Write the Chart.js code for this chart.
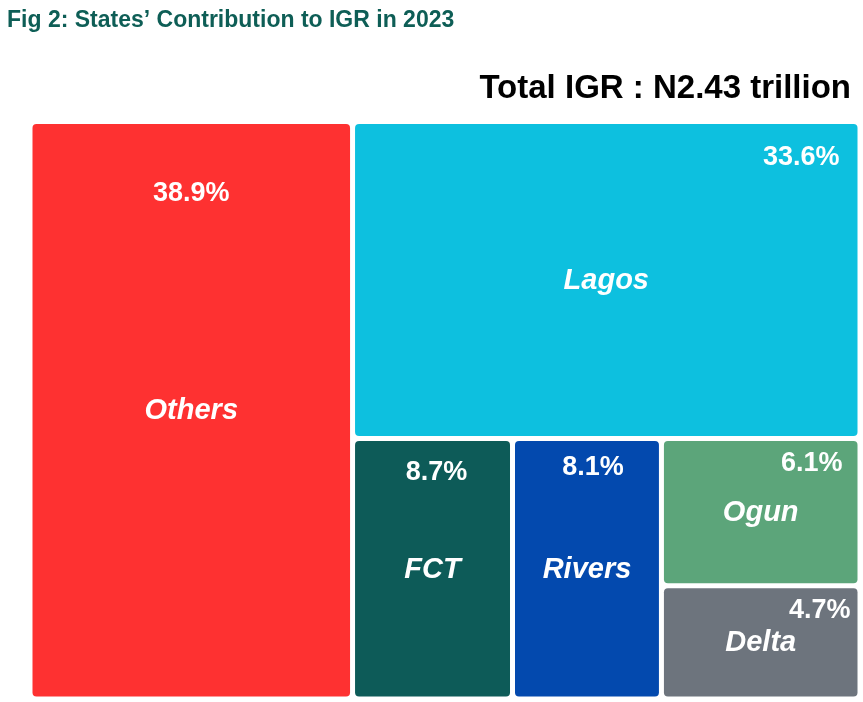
<!DOCTYPE html>
<html><head><meta charset="utf-8">
<script src="https://cdn.jsdelivr.net/npm/chart.js@4.4.0/dist/chart.umd.min.js"></script>
<style>html,body{margin:0;padding:0;background:#fff}#wrap{width:863px;height:702px;position:relative}</style>
</head><body><div id="wrap"><canvas id="c"></canvas></div>
<script>
// ---- data ----
const categories = ['Others', 'Lagos', 'FCT', 'Rivers', 'Ogun', 'Delta'];
const shares = [38.9, 33.6, 8.7, 8.1, 6.1, 4.7];
const titleText = 'Fig 2: States’ Contribution to IGR in 2023';
const totalText = 'Total IGR : N2.43 trillion';

// ---- styles ----
const colors = {Others:'#FE3131', Lagos:'#0DC0DF', FCT:'#0D5B58', Rivers:'#0349AE', Ogun:'#5CA57A', Delta:'#6D747D'};
const pctStyle = {
  Others:{align:'center', dx:0,  dy:70},
  Lagos: {align:'right',  dx:18, dy:34},
  FCT:   {align:'center', dx:4,  dy:31},
  Rivers:{align:'center', dx:6,  dy:26},
  Ogun:  {align:'right',  dx:15, dy:22},
  Delta: {align:'right',  dx:7,  dy:22}
};
const GAP = 5;

function squarify(vals, rect, kx, ky) {
  const out = [];
  const items = vals.map((v, i) => ({v, i}));
  const total = vals.reduce((a, b) => a + b, 0);
  const scale = (rect.w * rect.h) / total;
  let r = {...rect};
  function worst(row, side) {
    const s = row.reduce((a, b) => a + b.v, 0) * scale * kx * ky;
    const thick = s / side;
    let m = 0;
    for (const it of row) { const len = it.v * scale * kx * ky / thick; m = Math.max(m, thick / len, len / thick); }
    return m;
  }
  function layoutRow(row, r) {
    const sum = row.reduce((a, b) => a + b.v, 0) * scale;
    if (r.w * kx >= r.h * ky) {
      const cw = sum / r.h; let y = r.y;
      for (const it of row) { const h = it.v * scale / cw; out[it.i] = {x0:r.x, x1:r.x + cw, y0:y, y1:y + h}; y += h; }
      return {x:r.x + cw, y:r.y, w:r.w - cw, h:r.h};
    } else {
      const rh = sum / r.w; let x = r.x;
      for (const it of row) { const w = it.v * scale / rh; out[it.i] = {x0:x, x1:x + w, y0:r.y, y1:r.y + rh}; x += w; }
      return {x:r.x, y:r.y + rh, w:r.w, h:r.h - rh};
    }
  }
  let row = [];
  while (items.length) {
    const side = Math.min(r.w * kx, r.h * ky);
    const next = items[0];
    if (row.length === 0 || worst(row.concat([next]), side) <= worst(row, side)) { row.push(next); items.shift(); }
    else { r = layoutRow(row, r); row = []; }
  }
  if (row.length) layoutRow(row, r);
  return out;
}

const treemapPlugin = {
  id: 'treemap',
  beforeDatasetsDraw(chart) {
    const {ctx, chartArea, scales:{x, y}} = chart;
    const kx = chartArea.width / (x.max - x.min), ky = chartArea.height / (y.max - y.min);
    const rects = squarify(shares, {x:x.min, y:y.min, w:x.max - x.min, h:y.max - y.min}, kx, ky);
    ctx.save();
    rects.forEach((rc, i) => {
      const name = categories[i];
      const px0 = x.getPixelForValue(rc.x0) + GAP / 2, px1 = x.getPixelForValue(rc.x1) - GAP / 2;
      const py0 = y.getPixelForValue(rc.y0) + GAP / 2, py1 = y.getPixelForValue(rc.y1) - GAP / 2;
      ctx.fillStyle = colors[name];
      ctx.beginPath();
      ctx.roundRect(px0, py0, px1 - px0, py1 - py0, 4);
      ctx.fill();
      ctx.fillStyle = '#ffffff';
      ctx.textBaseline = 'middle';
      const st = pctStyle[name];
      ctx.font = 'bold 27px "Liberation Sans", Arial, sans-serif';
      if (st.align === 'right') { ctx.textAlign = 'right'; ctx.fillText(shares[i].toFixed(1) + '%', px1 - st.dx, py0 + st.dy); }
      else { ctx.textAlign = 'center'; ctx.fillText(shares[i].toFixed(1) + '%', (px0 + px1) / 2 + st.dx, py0 + st.dy); }
      ctx.font = 'italic bold 29px "Liberation Sans", Arial, sans-serif';
      ctx.textAlign = 'center';
      ctx.fillText(name, (px0 + px1) / 2, (py0 + py1) / 2 + 1);
    });
    ctx.restore();
  },
  afterDraw(chart) {
    const {ctx} = chart;
    ctx.save();
    ctx.textBaseline = 'alphabetic';
    ctx.textAlign = 'left';
    ctx.fillStyle = '#0E5E56';
    ctx.font = 'bold 23px "Liberation Sans", Arial, sans-serif';
    ctx.fillText(titleText, 7, 27);
    ctx.textAlign = 'right';
    ctx.fillStyle = '#000000';
    ctx.font = 'bold 33px "Liberation Sans", Arial, sans-serif';
    ctx.fillText(totalText, 851, 98);
    ctx.restore();
  }
};

new Chart(document.getElementById('c'), {
  type: 'scatter',
  data: { labels: categories, datasets: [{ label: 'Share of IGR (%)', data: [], pointRadius: 0 }] },
  options: {
    responsive: true,
    maintainAspectRatio: false,
    animation: false,
    layout: { padding: { left: 30, right: 3, top: 121.5, bottom: 3 } },
    scales: {
      x: { type: 'linear', min: 0, max: 100, display: false },
      y: { type: 'linear', min: 0, max: 100, reverse: true, display: false }
    },
    plugins: { legend: { display: false }, tooltip: { enabled: false }, title: { display: false } }
  },
  plugins: [treemapPlugin]
});
</script>
</body></html>
